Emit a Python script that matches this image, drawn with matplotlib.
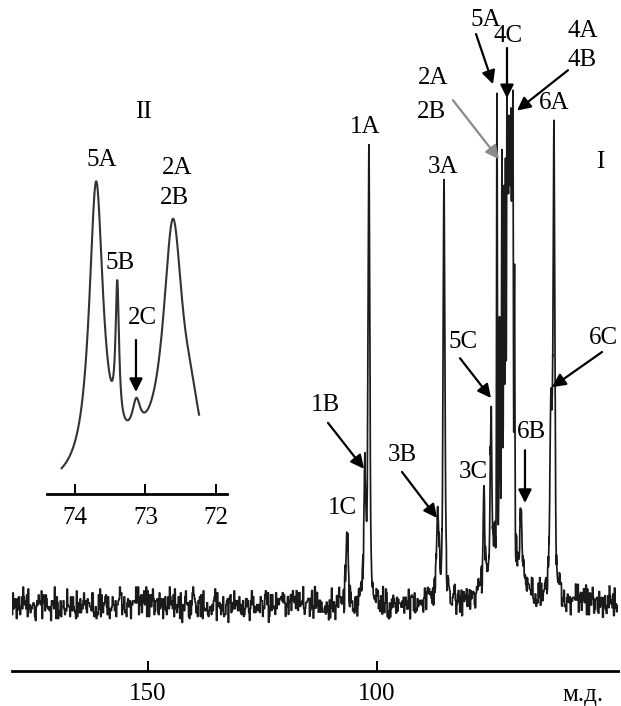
import numpy as np
import matplotlib
matplotlib.use("Agg")
import matplotlib.pyplot as plt

plt.rcParams['font.family'] = ['Liberation Serif', 'DejaVu Serif']
FS = 18

# ---------------- main 13C spectrum (I) ----------------
main_labels = ["1C", "1B", "1A", "3B", "3A", "3C", "5C", "5A", "2A/2B", "4C", "4A/4B", "6B", "6C", "6A"]
main_ppm    = [106.55, 102.62, 101.75, 86.68, 85.37, 76.64, 75.11, 73.80, 72.71, 71.62, 70.31, 68.56, 62.01, 61.35]
main_height = [14.5,   23.0,   89.5,   15.5,  80.5,  17.0,  31.0,  82.0,  64.0,  68.0,  80.0,  12.5,  37.0,  89.0]
main_fwhm   = [0.50,   0.60,   0.45,   0.60,  0.45,  0.40,  0.40,  0.20,  0.20,  0.20,  0.20,  0.50,  0.60,  0.45]
main_lfrac  = [0.5,    0.5,    0.5,    0.5,   0.5,   0.5,   0.5,   0.0,   0.0,   0.0,   0.0,   0.5,   0.5,   0.5]
# unresolved lines inside the C2/C3/C5/C4 cluster
cluster_ppm    = [73.25, 72.27, 71.94, 71.40, 71.18, 70.97, 70.75, 70.53, 69.98]
cluster_height = [37.0,  55.0,  60.0,  63.0,  67.0,  67.0,  71.0,  68.0,  54.0]
cluster_fwhm   = [0.20,  0.20,  0.20,  0.20,  0.20,  0.20,  0.20,  0.20,  0.20]
hump_ppm, hump_height, hump_fwhm = 72.05, 27.0, 3.9
baseline_level = 12.8
main_ticks = [150, 100]

# baseline noise digits (typed constants)
digits_a = ("1415926535897932384626433832795028841971693993751058209749445923078164062862089986280348253421170679"
            "8214808651328230664709384460955058223172535940812848111745028410270193852110555964462294895493038196")
digits_b = ("7182818284590452353602874713526624977572470936999595749669676277240766303535475945713821785251664274"
            "2746639193200305992181741359662904357290033429526059563073813232862794349076323382988075319525101901")
digits_c = ("4142135623730950488016887242096980785696718753769480731766797379907324784621070388503875343276415727"
            "3501384623091229702492483605585073721264412149709993583141322266592750559275579995050115278206057147")

# ---------------- inset spectrum (II) ----------------
inset_ppm    = [73.70, 73.40, 73.13, 72.61, 72.35, 73.10]
inset_height = [292.0, 140.0, 32.0,  246.0, 40.0,  25.0]
inset_hwhm   = [0.12,  0.03,  0.07,  0.17,  0.15,  0.60]
inset_range = (74.19, 72.24)
inset_ticks = [74, 73, 72]

# peak labels: (text, x, y) in data coords of the main axes
main_texts = [("1A", 102.62, 105.2), ("3A", 85.59, 97.5), ("2A", 87.77, 114.7), ("2B", 87.99, 108.1),
              ("5A", 76.20, 125.9), ("4C", 71.40, 122.8), ("4A", 55.02, 123.8), ("4B", 55.24, 118.2),
              ("6A", 61.35, 109.9), ("I", 51.31, 98.5), ("5C", 81.22, 63.6), ("6C", 50.66, 64.4),
              ("1B", 111.35, 51.45), ("3B", 94.54, 41.8), ("3C", 79.04, 38.5), ("6B", 66.16, 46.2),
              ("1C", 107.64, 31.5)]
main_arrows = [((78.38, 123.2), (74.67, 113.5), 'k'),
               ((71.62, 120.5), (71.62, 110.8), 'k'),
               ((58.30, 116.2), (69.43, 108.4), 'k'),
               ((83.41, 110.4), (73.36, 99.0), '#8a8a8a'),
               ((81.88, 60.5), (75.11, 52.8), 'k'),
               ((50.87, 61.7), (61.79, 54.9), 'k'),
               ((110.7, 48.0), (102.84, 39.1), 'k'),
               ((94.54, 38.5), (86.9, 29.6), 'k'),
               ((67.69, 42.7), (67.69, 32.5), 'k')]
inset_texts = [("II", 73.035, 382), ("5A", 73.617, 334), ("2A", 72.553, 326), ("2B", 72.582, 296),
               ("5B", 73.362, 231), ("2C", 73.05, 176)]
inset_arrows = [((73.135, 154), (73.135, 102))]


def pv(x, x0, h, fwhm, eta):
    g = np.exp(-4 * np.log(2) * ((x - x0) / fwhm) ** 2)
    l = 1.0 / (1.0 + (2 * (x - x0) / fwhm) ** 2)
    return h * (eta * l + (1 - eta) * g)


W, H = 621, 706
fig = plt.figure(figsize=(W / 100, H / 100), dpi=100)

# main axes
ax = fig.add_axes([12 / W, 35 / H, 606 / W, 631 / H])
xlo, xhi = 47.38, 179.69
x = np.arange(xlo, xhi, 0.01)
y = np.full_like(x, baseline_level)
for p, h, w, e in zip(main_ppm, main_height, main_fwhm, main_lfrac):
    y += pv(x, p, h, w, e)
for p, h, w in zip(cluster_ppm, cluster_height, cluster_fwhm):
    y += pv(x, p, h, w, 0.0)
y += hump_height / (1.0 + (2 * (x - hump_ppm) / hump_fwhm) ** 2)

n = min(len(digits_a), len(digits_b), len(digits_c))
da = np.array([int(c) for c in digits_a[:n]])
db = np.array([int(c) for c in digits_b[:n]])
dc = np.array([int(c) for c in digits_c[:n]])
noise = np.concatenate([da + db - 9, db + dc - 9, dc + da - 9, db + da - 9]) * 0.38
step = 0.16
idx = ((x - xlo) / step).astype(int) % len(noise)
y += noise[idx]

ax.plot(x, y, color='#1a1a1a', lw=1.25)
ax.set_xlim(xhi, xlo)
ax.set_ylim(0, 631 / 5.17)
for s in ['top', 'right', 'left']:
    ax.spines[s].set_visible(False)
ax.spines['bottom'].set_linewidth(2.0)
ax.set_yticks([])
ax.set_xticks(main_ticks)
ax.set_xticklabels([str(t) for t in main_ticks])
ax.tick_params(axis='x', direction='in', length=7.5, width=1.4, pad=9, labelsize=FS)
ax.text(55.0, -4.64, 'м.д.', ha='center', va='center', fontsize=FS, clip_on=False)
for t, tx, ty in main_texts:
    ax.text(tx, ty, t, ha='center', va='center', fontsize=FS, clip_on=False)
for (x0, y0), (x1, y1), c in main_arrows:
    ax.annotate('', xy=(x1, y1), xytext=(x0, y0),
                arrowprops=dict(arrowstyle='-|>', color=c, lw=1.6, mutation_scale=20,
                                shrinkA=0, shrinkB=0), annotation_clip=False)

# inset axes
axi = fig.add_axes([47 / W, (H - 494) / H, 180 / W, 344 / H])
axi.patch.set_alpha(0)
xi = np.linspace(inset_range[0], inset_range[1], 800)
yi = np.zeros_like(xi)
for p, h, g in zip(inset_ppm, inset_height, inset_hwhm):
    yi += h / (1.0 + ((xi - p) / g) ** 2)
axi.plot(xi, yi, color='#333333', lw=1.5)
axi.set_xlim(74.397, 71.844)
axi.set_ylim(0, 344)
for s in ['top', 'right', 'left']:
    axi.spines[s].set_visible(False)
axi.spines['bottom'].set_linewidth(2.0)
axi.set_yticks([])
axi.set_xticks(inset_ticks)
axi.set_xticklabels([str(t) for t in inset_ticks])
axi.tick_params(axis='x', direction='in', length=7, width=1.4, pad=9, labelsize=FS)
for t, tx, ty in inset_texts:
    axi.text(tx, ty, t, ha='center', va='center', fontsize=FS, clip_on=False)
for (x0, y0), (x1, y1) in inset_arrows:
    axi.annotate('', xy=(x1, y1), xytext=(x0, y0),
                 arrowprops=dict(arrowstyle='-|>', color='k', lw=1.6, mutation_scale=20,
                                 shrinkA=0, shrinkB=0), annotation_clip=False)

fig.savefig('out.png', dpi=100)
